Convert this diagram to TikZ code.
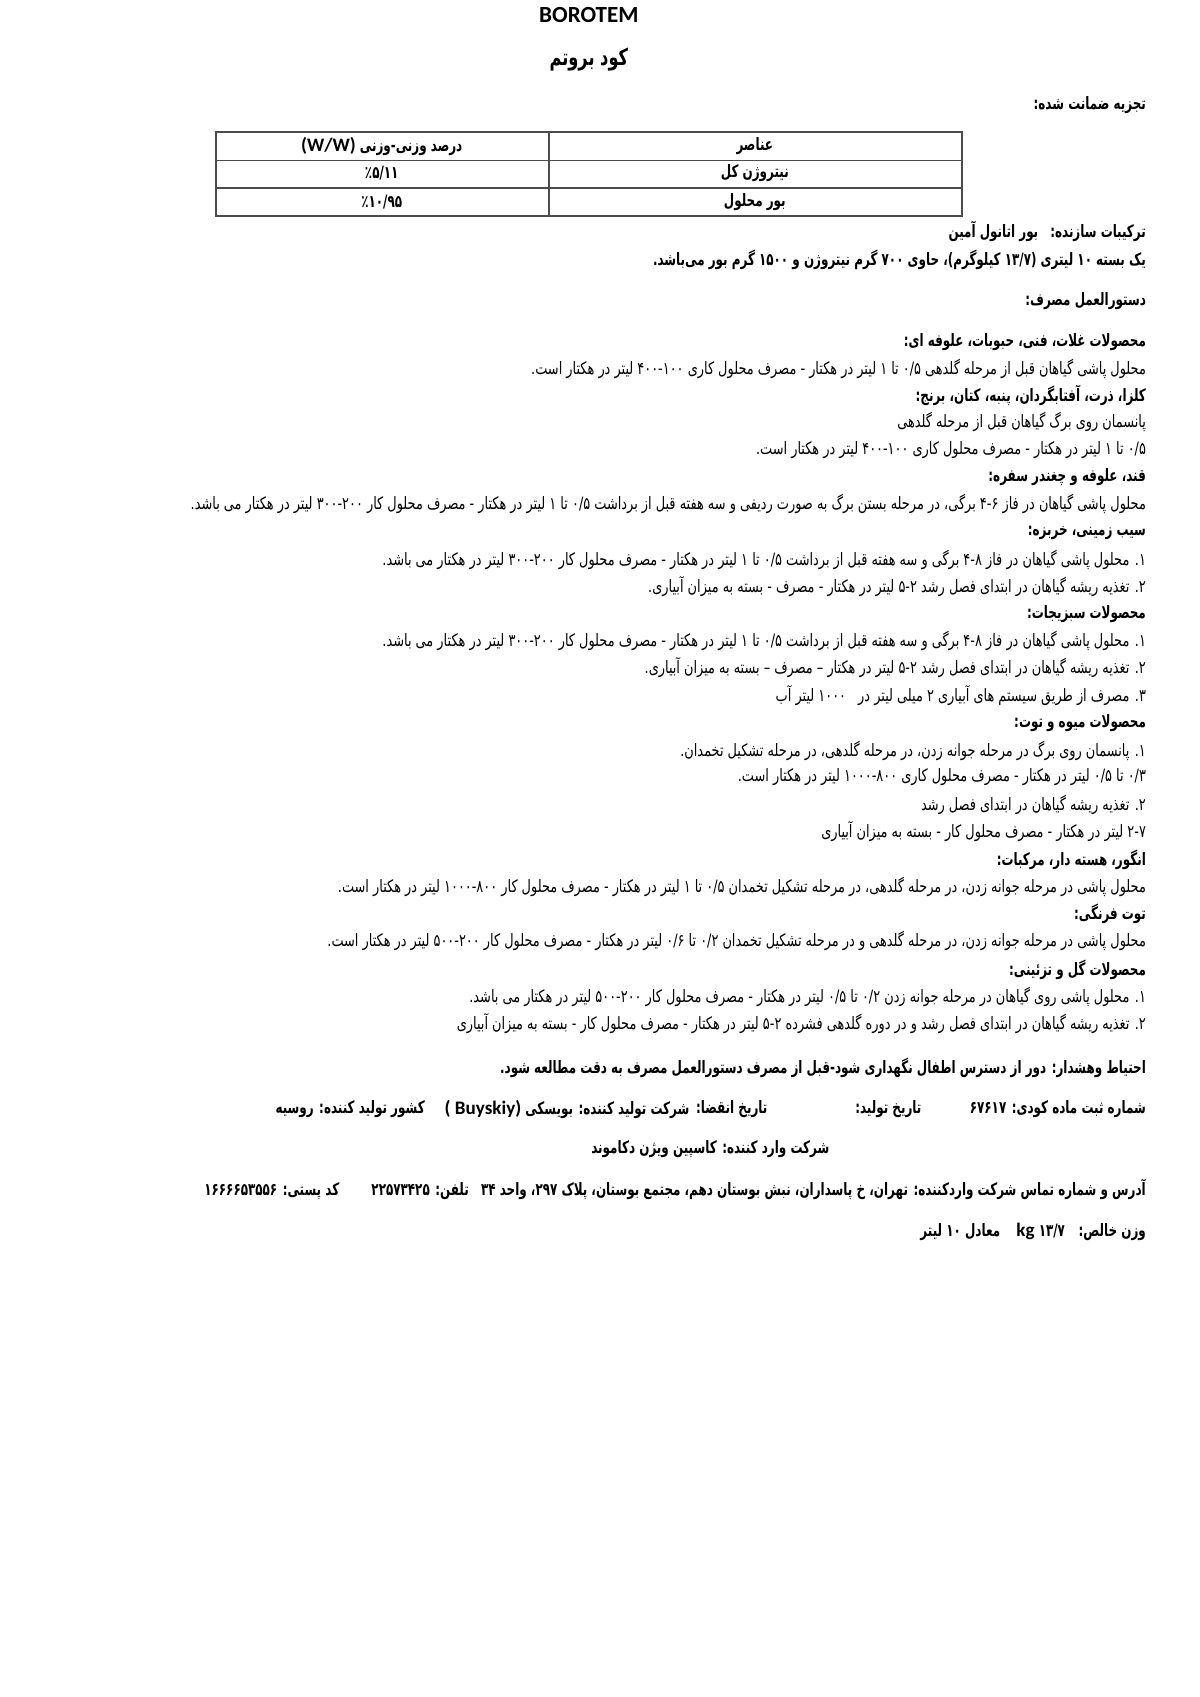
\documentclass[tikz,border=0pt]{standalone}
\usepackage{fontspec}
\newfontfamily\fatxt[Script=Arabic,FakeStretch=0.755]{DejaVu Sans}
\newfontfamily\fabold[Script=Arabic,FakeStretch=0.7]{DejaVu Sans Bold}
\newfontfamily\latxt{Carlito}
\TeXXeTstate=1
\tikzset{
  body/.style={anchor=east, inner sep=0pt, font={\fatxt\fontsize{8.5}{10}\selectfont}},
  bold/.style={anchor=east, inner sep=0pt, font={\fabold\fontsize{8.5}{10}\selectfont}},
  cell/.style={inner sep=0pt, font={\fabold\fontsize{8.5}{10}\selectfont}},
  grid/.style={draw=black!70, line width=0.9pt}
}
\begin{document}
\begin{tikzpicture}[x=0.1898mm, y=-0.1898mm]
  \useasboundingbox[fill=white] (0,0) rectangle (1106.4,1564.8);
  % heading
  \node[inner sep=0pt, font={\latxt\bfseries\fontsize{11.5}{13}\selectfont}] (brand) at (543,14) {BOROTEM};
  \node[inner sep=0pt, font={\fabold\fontsize{11.5}{13}\selectfont}] (title) at (543,55) {\beginR کود بروتم\endR};
  \node[bold] (analysis) at (1057,97) {\beginR تجزیه ضمانت شده:\endR};
  % table
  \draw[grid] (199,122) rectangle (887,199);
  \foreach \y in {148,173} \draw[grid] (199,\y) -- (887,\y);
  \draw[grid] (506,122) -- (506,199);
  \node[cell] (elem) at (696,135) {\beginR عناصر\endR};
  \node[cell] (pct) at (352,135) {\beginR درصد وزنی-وزنی {\latxt\bfseries\fontsize{9.5}{10}\selectfont\beginL(W/W)\endL}\endR};
  \node[cell] (nitro) at (696,160) {\beginR نیتروژن کل\endR};
  \node[cell] (nitrov) at (352,160) {٪۵/۱۱};
  \node[cell] (boron) at (696,186) {\beginR بور محلول\endR};
  \node[cell] (boronv) at (352,186) {٪۱۰/۹۵};
  % product
  \node[bold] (comp) at (1057,213) {\beginR ترکیبات سازنده:\hspace{6pt}بور اتانول آمین\endR};
  \node[bold] (pack) at (1057,240) {\beginR یک بسته ۱۰ لیتری (۱۳/۷ کیلوگرم)، حاوی ۷۰۰ گرم نیتروژن و ۱۵۰۰ گرم بور می‌باشد.\endR};
  \node[bold] (usage) at (1057,278) {\beginR دستورالعمل مصرف:\endR};
  % crops
  \node[bold] (cereal) at (1057,315) {\beginR محصولات غلات، فنی، حبوبات، علوفه ای:\endR};
  \node[body] (cereal1) at (1057,340) {\beginR محلول پاشی گیاهان قبل از مرحله گلدهی ۰/۵ تا ۱ لیتر در هکتار - مصرف محلول کاری ۴۰۰-۱۰۰ لیتر در هکتار است.\endR};
  \node[bold] (canola) at (1057,365) {\beginR کلزا، ذرت، آفتابگردان، پنبه، کتان، برنج:\endR};
  \node[body] (canola1) at (1057,389) {\beginR پانسمان روی برگ گیاهان قبل از مرحله گلدهی\endR};
  \node[body] (canola2) at (1057,415) {\beginR ۰/۵ تا ۱ لیتر در هکتار - مصرف محلول کاری ۴۰۰-۱۰۰ لیتر در هکتار است.\endR};
  \node[bold] (beet) at (1057,440) {\beginR قند، علوفه و چغندر سفره:\endR};
  \node[body] (beet1) at (1057,465) {\beginR محلول پاشی گیاهان در فاز ۴-۶ برگی، در مرحله بستن برگ به صورت ردیفی و سه هفته قبل از برداشت ۰/۵ تا ۱ لیتر در هکتار - مصرف محلول کار ۳۰۰-۲۰۰ لیتر در هکتار می باشد.\endR};
  \node[bold] (potato) at (1057,491) {\beginR سیب زمینی، خربزه:\endR};
  \node[body] (potato1) at (1057,516) {\beginR ۱. محلول پاشی گیاهان در فاز ۴-۸ برگی و سه هفته قبل از برداشت ۰/۵ تا ۱ لیتر در هکتار - مصرف محلول کار ۳۰۰-۲۰۰ لیتر در هکتار می باشد.\endR};
  \node[body] (potato2) at (1057,541) {\beginR ۲. تغذیه ریشه گیاهان در ابتدای فصل رشد ۵-۲ لیتر در هکتار - مصرف - بسته به میزان آبیاری.\endR};
  \node[bold] (veg) at (1057,566) {\beginR محصولات سبزیجات:\endR};
  \node[body] (veg1) at (1057,591) {\beginR ۱. محلول پاشی گیاهان در فاز ۴-۸ برگی و سه هفته قبل از برداشت ۰/۵ تا ۱ لیتر در هکتار - مصرف محلول کار ۳۰۰-۲۰۰ لیتر در هکتار می باشد.\endR};
  \node[body] (veg2) at (1057,616) {\beginR ۲. تغذیه ریشه گیاهان در ابتدای فصل رشد ۵-۲ لیتر در هکتار – مصرف – بسته به میزان آبیاری.\endR};
  \node[body] (veg3) at (1057,641) {\beginR ۳. مصرف از طریق سیستم های آبیاری ۲ میلی لیتر در\hspace{4pt} ۱۰۰۰ لیتر آب\endR};
  \node[bold] (fruit) at (1057,667) {\beginR محصولات میوه و توت:\endR};
  \node[body] (fruit1) at (1057,692) {\beginR ۱. پانسمان روی برگ در مرحله جوانه زدن، در مرحله گلدهی، در مرحله تشکیل تخمدان.\endR};
  \node[body] (fruit2) at (1057,717) {\beginR ۰/۳ تا ۰/۵ لیتر در هکتار - مصرف محلول کاری ۱۰۰۰-۸۰۰ لیتر در هکتار است.\endR};
  \node[body] (fruit3) at (1057,742) {\beginR ۲. تغذیه ریشه گیاهان در ابتدای فصل رشد\endR};
  \node[body] (fruit4) at (1057,767) {\beginR ۲-۷ لیتر در هکتار - مصرف محلول کار - بسته به میزان آبیاری\endR};
  \node[bold] (grape) at (1057,793) {\beginR انگور، هسته دار، مرکبات:\endR};
  \node[body] (grape1) at (1057,818) {\beginR محلول پاشی در مرحله جوانه زدن، در مرحله گلدهی، در مرحله تشکیل تخمدان ۰/۵ تا ۱ لیتر در هکتار - مصرف محلول کار ۱۰۰۰-۸۰۰ لیتر در هکتار است.\endR};
  \node[bold] (straw) at (1057,843) {\beginR توت فرنگی:\endR};
  \node[body] (straw1) at (1057,868) {\beginR محلول پاشی در مرحله جوانه زدن، در مرحله گلدهی و در مرحله تشکیل تخمدان ۰/۲ تا ۰/۶ لیتر در هکتار - مصرف محلول کار ۵۰۰-۲۰۰ لیتر در هکتار است.\endR};
  \node[bold] (flower) at (1057,894) {\beginR محصولات گل و تزئینی:\endR};
  \node[body] (flower1) at (1057,919) {\beginR ۱. محلول پاشی روی گیاهان در مرحله جوانه زدن ۰/۲ تا ۰/۵ لیتر در هکتار - مصرف محلول کار ۵۰۰-۲۰۰ لیتر در هکتار می باشد.\endR};
  \node[body] (flower2) at (1057,944) {\beginR ۲. تغذیه ریشه گیاهان در ابتدای فصل رشد و در دوره گلدهی فشرده ۵-۲ لیتر در هکتار - مصرف محلول کار - بسته به میزان آبیاری\endR};
  % footer
  \node[bold] (warn) at (1057,985) {\beginR احتیاط وهشدار: دور از دسترس اطفال نگهداری شود-قبل از مصرف دستورالعمل مصرف به دقت مطالعه شود.\endR};
  \node[bold] (regno) at (1057,1023) {\beginR شماره ثبت ماده کودی: ۶۷۶۱۷\endR};
  \node[bold] (made) at (850,1023) {\beginR تاریخ تولید:\endR};
  \node[bold] (expiry) at (708,1023) {\beginR تاریخ انقضا:\endR};
  \node[bold] (maker) at (636,1023) {\beginR شرکت تولید کننده: بویسکی {\latxt\bfseries\fontsize{9.5}{10}\selectfont\beginL( Buyskiy)\endL}\endR};
  \node[bold] (country) at (392,1023) {\beginR کشور تولید کننده: روسیه\endR};
  \node[bold, anchor=center] (importer) at (655,1060) {\beginR شرکت وارد کننده: کاسپین ویژن دکاموند\endR};
  \node[bold] (address) at (1057,1097) {\beginR آدرس و شماره تماس شرکت واردکننده: تهران، خ پاسداران، نبش بوستان دهم، مجتمع بوستان، پلاک ۲۹۷، واحد ۳۴\hspace{4pt} تلفن: ۲۲۵۷۳۴۲۵\hspace{14pt} کد پستی: ۱۶۶۶۶۵۳۵۵۶\endR};
  \node[bold] (weight) at (1057,1136) {\beginR وزن خالص:\hspace{4pt} ۱۳/۷ {\latxt\bfseries\fontsize{9.5}{10}\selectfont kg}\hspace{6pt} معادل ۱۰ لیتر\endR};
\end{tikzpicture}
\end{document}
